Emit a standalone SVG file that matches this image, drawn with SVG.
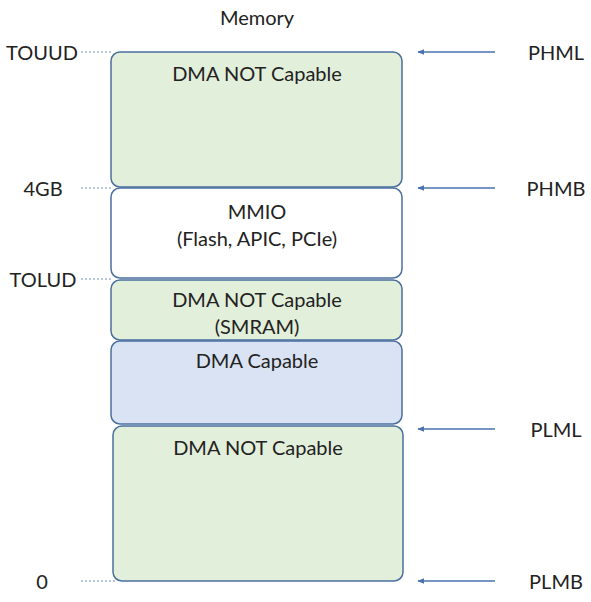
<svg xmlns="http://www.w3.org/2000/svg" width="591" height="602" viewBox="0 0 591 602">
<defs>
<style>
text{font-family:Lato,"Liberation Sans",sans-serif;font-size:20px;fill:#222222}
.m{text-anchor:middle}
.g{fill:#e2efda;stroke:#4a6f9e;stroke-width:1.5}
.w{fill:#ffffff;stroke:#4a6f9e;stroke-width:1.5}
.b{fill:#dae3f3;stroke:#4a6f9e;stroke-width:1.5}
.dot{stroke:#6f8fbf;stroke-width:1.2;stroke-dasharray:2 2;fill:none}
.arr{stroke:#4a72b0;stroke-width:1.3;fill:none;marker-end:url(#ah)}
</style>
<marker id="ah" viewBox="0 0 10 10" refX="9" refY="5" markerWidth="7" markerHeight="7" orient="auto" markerUnits="userSpaceOnUse">
<path d="M0,1 L10,5 L0,9 z" fill="#4a72b0"/>
</marker>
</defs>
<rect width="591" height="602" fill="#ffffff"/>
<text class="m" x="257" y="25">Memory</text>
<g id="region-top">
<rect class="g" x="111" y="52" width="291" height="135" rx="9"/>
<text class="m" x="257" y="81">DMA NOT Capable</text>
</g>
<g id="region-mmio">
<rect class="w" x="111" y="188" width="291" height="90" rx="9"/>
<text class="m" x="257" y="219">MMIO</text>
<text class="m" x="257" y="246">(Flash, APIC, PCIe)</text>
</g>
<g id="region-smram">
<rect class="g" x="111" y="280" width="291" height="60" rx="9"/>
<text class="m" x="257" y="307">DMA NOT Capable</text>
<text class="m" x="257" y="334">(SMRAM)</text>
</g>
<g id="region-dma">
<rect class="b" x="111" y="341" width="291" height="83" rx="9"/>
<text class="m" x="257" y="368">DMA Capable</text>
</g>
<g id="region-low">
<rect class="g" x="113" y="426" width="290" height="155" rx="9"/>
<text class="m" x="258" y="455">DMA NOT Capable</text>
</g>
<g id="labels-left">
<text class="m" x="42" y="60">TOUUD</text>
<text class="m" x="43" y="196">4GB</text>
<text class="m" x="43" y="287">TOLUD</text>
<text class="m" x="42" y="589">0</text>
</g>
<g id="labels-right">
<text class="m" x="556" y="60">PHML</text>
<text class="m" x="556" y="196">PHMB</text>
<text class="m" x="556" y="437">PLML</text>
<text class="m" x="556" y="589">PLMB</text>
</g>
<g id="connectors">
<path class="dot" d="M81,52 H112"/>
<path class="dot" d="M81,188 H112"/>
<path class="dot" d="M81,279 H112"/>
<path class="dot" d="M81,581 H115"/>
<path class="arr" d="M495,52 H418"/>
<path class="arr" d="M495,188 H418"/>
<path class="arr" d="M495,429 H418"/>
<path class="arr" d="M495,581 H418"/>
</g>
</svg>
